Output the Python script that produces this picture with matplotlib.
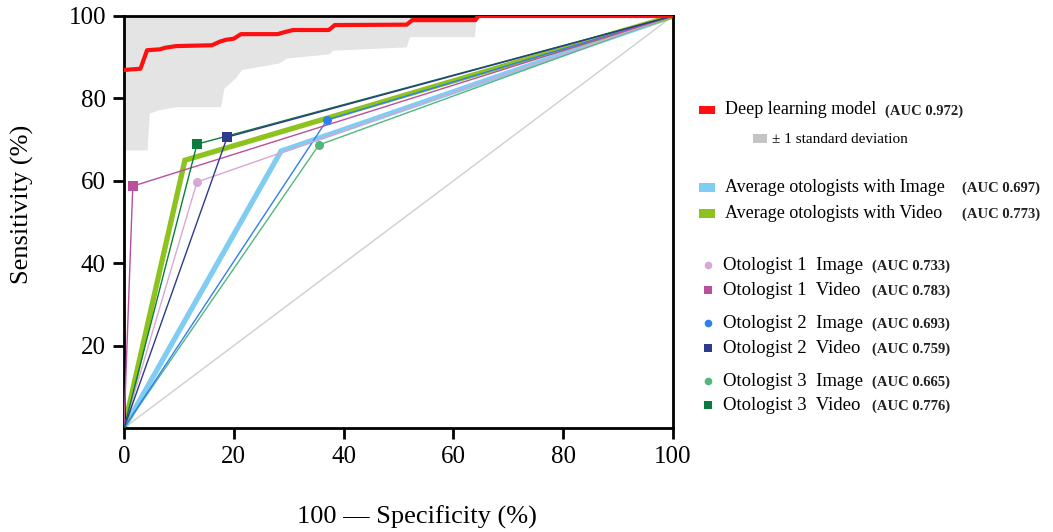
import matplotlib
matplotlib.use("Agg")
import matplotlib.pyplot as plt
from matplotlib.lines import Line2D

plt.rcParams['font.family'] = ['Liberation Serif', 'DejaVu Serif']

# ---------------- data ----------------
dl_fpr = [0, 3.0, 4.2, 6.5, 7.5, 9.5, 16.0, 17.5, 18.5, 20.0, 21.3, 28.0, 29.0, 30.8,
          37.3, 38.4, 51.5, 52.5, 64.0, 64.5, 100]
dl_tpr = [86.9, 87.2, 91.7, 91.9, 92.3, 92.7, 92.9, 93.8, 94.2, 94.5, 95.6, 95.6, 96.0,
          96.6, 96.6, 97.8, 97.9, 99.0, 99.0, 100, 100]

sd_fpr = [0, 4.2, 4.6, 6.2, 9.5, 17.6, 18.2, 19.5, 20.5, 21.4, 28.2, 29.6, 37.3, 38.0,
          51.4, 52.0, 63.8, 64.2, 100]
sd_lower = [67.5, 67.5, 76.4, 77.2, 78.0, 78.0, 82.5, 84.0, 85.3, 87.0, 88.6, 89.8, 90.8,
            91.7, 92.5, 95.0, 95.0, 100, 100]
sd_upper = [100] * len(sd_fpr)

avg_names = ["Average otologists with Image", "Average otologists with Video"]
avg_auc = ["(AUC 0.697)", "(AUC 0.773)"]
avg_fpr = [28.6, 11.1]
avg_tpr = [67.2, 65.0]

oto_names = ["Otologist 1  Image", "Otologist 1  Video",
             "Otologist 2  Image", "Otologist 2  Video",
             "Otologist 3  Image", "Otologist 3  Video"]
oto_auc = ["(AUC 0.733)", "(AUC 0.783)", "(AUC 0.693)", "(AUC 0.759)",
           "(AUC 0.665)", "(AUC 0.776)"]
oto_fpr = [13.3, 1.6, 37.0, 18.8, 35.5, 13.3]
oto_tpr = [59.7, 58.7, 74.8, 70.6, 68.7, 68.9]

dl_label = "Deep learning model"
dl_auc = "(AUC 0.972)"
sd_label = "± 1 standard deviation"

xticks = [0, 20, 40, 60, 80, 100]
yticks = [20, 40, 60, 80, 100]

# ---------------- styles ----------------
c_dl = "#ff1010"
c_sd = "#e4e4e4"
avg_colors = ["#7fcdf2", "#8dc21f"]
oto_colors = ["#d6a8d4", "#b94f9e", "#2f80ed", "#2e3a8c", "#52b77c", "#0c7c3e"]
oto_markers = ["o", "s", "o", "s", "o", "s"]

W, H = 1053, 532
fig = plt.figure(figsize=(W / 100, H / 100), dpi=100)

def fx(px):
    return px / W

def fy(py):
    return 1 - py / H

ax = fig.add_axes([fx(124), fy(428), (673 - 124) / W, (428 - 16) / H])

ax.plot([0, 100], [0, 100], color="#cfcfcf", lw=1.0, zorder=1)
ax.fill_between(sd_fpr, sd_lower, sd_upper, color=c_sd, lw=0, zorder=0.5)

for i in range(2):
    ax.plot([0, avg_fpr[i], 100], [0, avg_tpr[i], 100], color=avg_colors[i],
            lw=3.8, zorder=2, solid_joinstyle='miter')

order = [4, 2, 0, 1, 5, 3]
for i in order:
    ax.plot([0, oto_fpr[i], 100], [0, oto_tpr[i], 100], color=oto_colors[i], lw=1.0,
            zorder=3)
    ms = 6.5 if oto_markers[i] == "o" else 7.5
    ax.plot([oto_fpr[i]], [oto_tpr[i]], marker=oto_markers[i], color=oto_colors[i],
            ms=ms, mew=0, ls='none', zorder=4)

ax.plot(dl_fpr, dl_tpr, color=c_dl, lw=3.0, zorder=5, solid_joinstyle='round')

ax.set_xlim(0, 100)
ax.set_ylim(0, 100)
ax.set_xticks(xticks)
ax.set_yticks(yticks)
ax.tick_params(direction='out', length=8, width=2, labelsize=18, pad=5)
for s in ax.spines.values():
    s.set_linewidth(2.0)

fig.text(fx(417), fy(517), "100 — Specificity (%)", fontsize=19, ha='center', va='center')
fig.text(fx(22), fy(204), "Sensitivity (%)", fontsize=19, ha='center', va='center',
         rotation=90)

# ---------------- custom legend ----------------
def square(cx, cy, w, h, color):
    fig.patches.append(plt.Rectangle((fx(cx - w / 2), fy(cy + h / 2)), w / W, h / H,
                                     transform=fig.transFigure, color=color, lw=0))

def marker(cx, cy, m, color, ms):
    fig.add_artist(Line2D([fx(cx)], [fy(cy)], marker=m, color=color, ms=ms, mew=0,
                          ls='none', transform=fig.transFigure))

def entry(text, auc, cy, tx, ax_x, size=13):
    fig.text(fx(tx), fy(cy + 5), text, fontsize=size, ha='left', va='baseline')
    fig.text(fx(ax_x), fy(cy + 5), auc, fontsize=10.5, fontweight='bold', ha='left',
             va='baseline', color="#222222")

square(707, 109.5, 16, 8, c_dl)
entry(dl_label, dl_auc, 109.5, 725, 885)

square(760, 138.5, 14, 9, "#c4c4c4")
fig.text(fx(772), fy(138.5 + 4.5), sd_label, fontsize=11, ha='left', va='baseline')

avg_rows = [187, 213]
for i in range(2):
    square(707, avg_rows[i], 16, 9, avg_colors[i])
    entry(avg_names[i], avg_auc[i], avg_rows[i], 725, 962)

oto_rows = [265, 290, 323, 348, 381, 405]
for i in range(6):
    marker(708, oto_rows[i], oto_markers[i], oto_colors[i], 5.5)
    entry(oto_names[i], oto_auc[i], oto_rows[i], 723, 872, size=13.5)

fig.savefig("out.png", dpi=100)
